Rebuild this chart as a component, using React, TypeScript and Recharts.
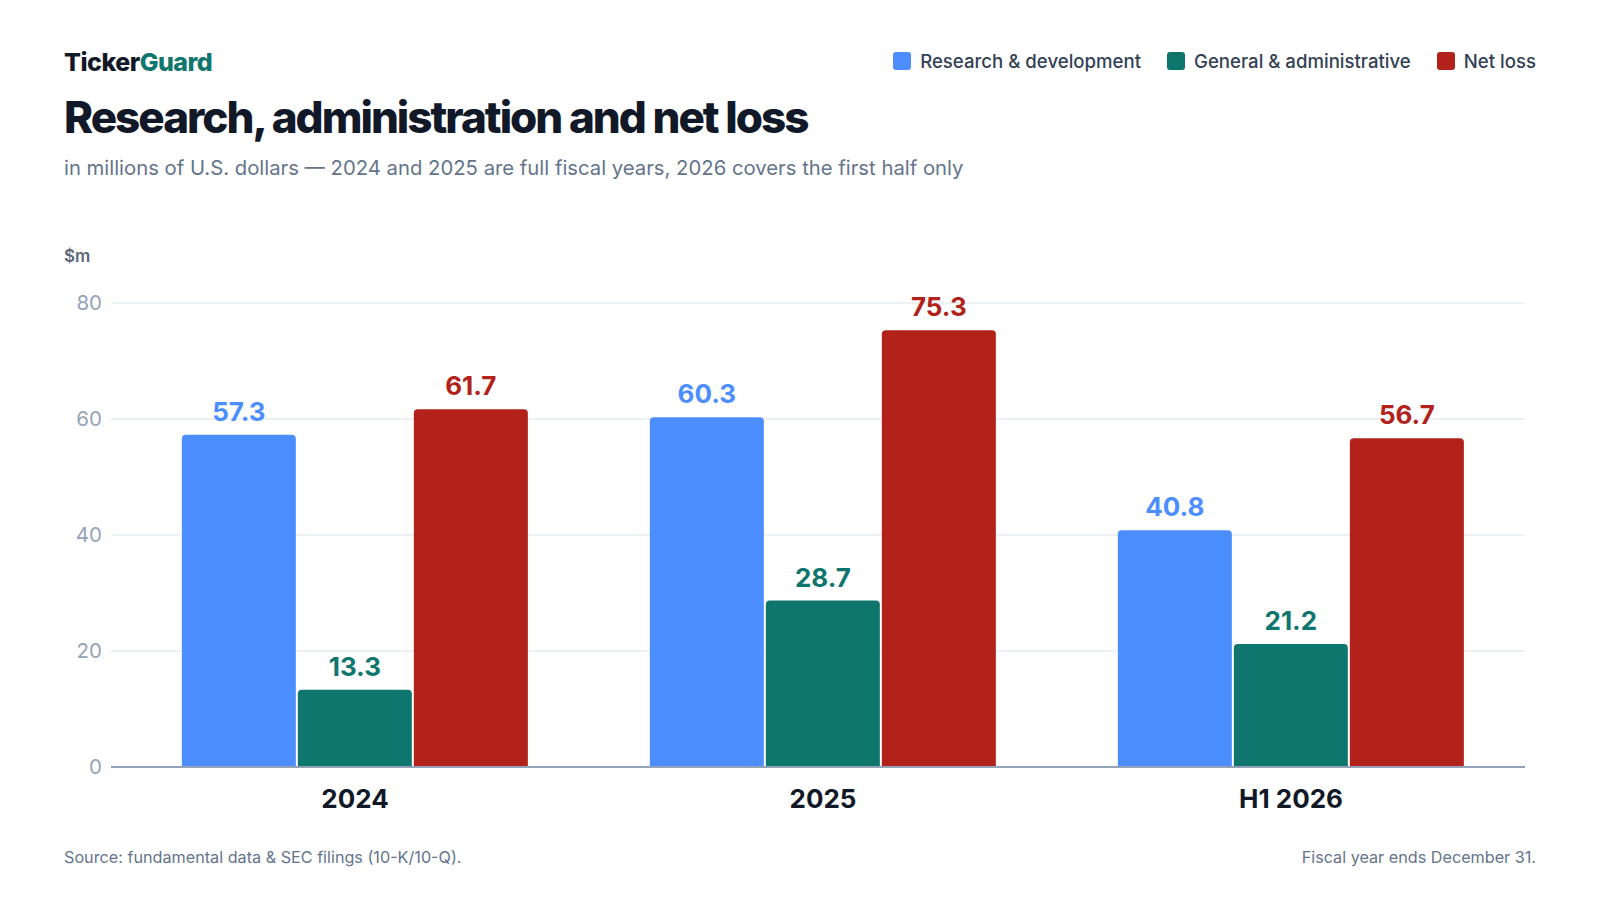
import { BarChart, Bar, XAxis, YAxis, CartesianGrid, LabelList } from 'recharts'

const PERIODS = ['2024', '2025', 'H1 2026']
const RND = [57.3, 60.3, 40.8]
const GNA = [13.3, 28.7, 21.2]
const NET_LOSS = [61.7, 75.3, 56.7]
const Y_TICKS = [0, 20, 40, 60, 80]

const SERIES = [
  { key: 'rnd', name: 'Research & development', color: '#4d8eff', label: '#4d8eff' },
  { key: 'gna', name: 'General & administrative', color: '#0f766e', label: '#0f766e' },
  { key: 'loss', name: 'Net loss', color: '#b2221a', label: '#b2221a' },
]

const FONT = 'Inter, "Noto Sans", "DejaVu Sans", sans-serif'

const data = PERIODS.map((p, i) => ({ period: p, rnd: RND[i], gna: GNA[i], loss: NET_LOSS[i] }))

export default function App() {
  return (
    <div style={{ position: 'absolute', left: 0, top: 0, width: 1600, height: 900, background: '#fff', fontFamily: FONT, overflow: 'hidden' }}>
      <div style={{ position: 'absolute', left: 64, top: 50, fontSize: 25, lineHeight: '25px', fontWeight: 800, letterSpacing: -0.5, color: '#111827' }}>
        Ticker<span style={{ color: '#0f766e' }}>Guard</span>
      </div>
      <div style={{ position: 'absolute', left: 64, top: 95, fontSize: 44, lineHeight: '44px', fontWeight: 800, letterSpacing: -2, color: '#111827', whiteSpace: 'nowrap' }}>
        Research, administration and net loss
      </div>
      <div style={{ position: 'absolute', left: 64, top: 158, fontSize: 20.3, lineHeight: '20px', color: '#64748b', whiteSpace: 'nowrap' }}>
        in millions of U.S. dollars — 2024 and 2025 are full fiscal years, 2026 covers the first half only
      </div>

      <div style={{ position: 'absolute', right: 64, top: 52, display: 'flex', alignItems: 'center', gap: 26 }}>
        {SERIES.map((s) => (
          <div key={s.key} style={{ display: 'flex', alignItems: 'center', gap: 9 }}>
            <div style={{ width: 18, height: 18, borderRadius: 3, background: s.color }} />
            <span style={{ fontSize: 18.6, lineHeight: '18px', fontWeight: 500, color: '#334155', whiteSpace: 'nowrap' }}>{s.name}</span>
          </div>
        ))}
      </div>

      <div style={{ position: 'absolute', left: 64, top: 248, fontSize: 17, lineHeight: '17px', fontWeight: 600, color: '#5b6678' }}>$m</div>

      <div style={{ position: 'absolute', left: 0, top: 0 }}>
        <BarChart
          width={1600}
          height={900}
          data={data}
          margin={{ top: 303, right: 75, bottom: 93, left: 0 }}
          barCategoryGap="13%"
          barGap={2}
        >
          <CartesianGrid vertical={false} stroke="#e8ecf1" strokeWidth={1.5} />
          <YAxis
            width={111}
            domain={[0, 80]}
            ticks={Y_TICKS}
            axisLine={false}
            tickLine={false}
            tickMargin={3}
            tick={{ fontSize: 20.5, fill: '#94a3b8', fontFamily: FONT }}
          />
          <XAxis
            dataKey="period"
            height={40}
            padding={{ left: 10, right: 0 }}
            tickLine={false}
            axisLine={{ stroke: '#94a3b8', strokeWidth: 2 }}
            tickMargin={17}
            tick={{ fontSize: 26, fontWeight: 700, fill: '#111827', fontFamily: FONT }}
          />
          {SERIES.map((s) => (
            <Bar key={s.key} dataKey={s.key} name={s.name} fill={s.color} radius={[4, 4, 0, 0]} isAnimationActive={false}>
              <LabelList
                dataKey={s.key}
                position="top"
                offset={14}
                style={{ fontSize: 26, fontWeight: 700, fill: s.label, fontFamily: FONT }}
              />
            </Bar>
          ))}
        </BarChart>
      </div>

      <div style={{ position: 'absolute', left: 64, top: 849, fontSize: 16.2, lineHeight: '16px', color: '#64748b' }}>
        Source: fundamental data &amp; SEC filings (10-K/10-Q).
      </div>
      <div style={{ position: 'absolute', right: 64, top: 849, fontSize: 16.2, lineHeight: '16px', color: '#64748b' }}>
        Fiscal year ends December 31.
      </div>
    </div>
  )
}
